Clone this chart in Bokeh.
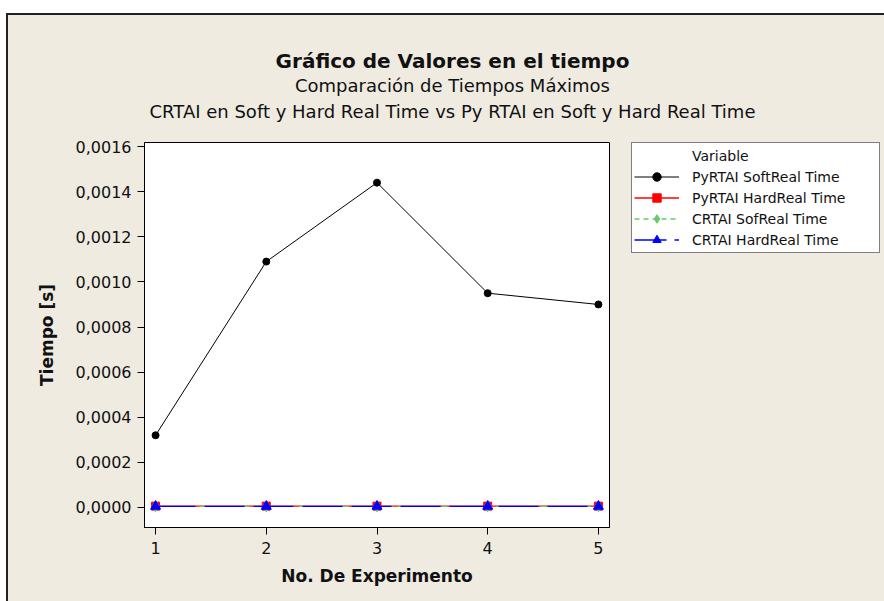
from bokeh.plotting import figure
from bokeh.layouts import column, row
from bokeh.models import (Range1d, FixedTicker, CustomJSTickFormatter, Legend, LegendItem)
from bokeh.core.properties import value
from bokeh.embed import file_html
from bokeh.resources import INLINE

# ---- data ----
experiments = [1, 2, 3, 4, 5]
pyrtai_soft = [0.00032, 0.00109, 0.00144, 0.00095, 0.00090]
pyrtai_hard = [0.000006, 0.000006, 0.000006, 0.000006, 0.000006]
crtai_soft = [0.000005, 0.000005, 0.000005, 0.000005, 0.000005]
crtai_hard = [0.000005, 0.000005, 0.000005, 0.000005, 0.000005]
y_ticks = [0.0, 0.0002, 0.0004, 0.0006, 0.0008, 0.0010, 0.0012, 0.0014, 0.0016]
x_ticks = [1, 2, 3, 4, 5]
series_names = ["PyRTAI SoftReal Time", "PyRTAI HardReal Time", "CRTAI SofReal Time", "CRTAI HardReal Time"]
legend_title = "Variable"
title_text = "Gráfico de Valores en el tiempo"
subtitle1 = "Comparación de Tiempos Máximos"
subtitle2 = "CRTAI en Soft y Hard Real Time vs Py RTAI en Soft y Hard Real Time"

FONT = "DejaVu Sans"
BG = "#EFEBE1"

# ---- title strip ----
t = figure(width=876, height=120, output_backend="svg", toolbar_location=None,
           x_range=Range1d(0, 876), y_range=Range1d(120, 0),
           x_axis_location=None, y_axis_location=None,
           min_border=0, background_fill_color=BG, border_fill_color=BG)
t.grid.visible = False
t.outline_line_color = None
for txt, yy, sz, st in [(title_text, 45, "20px", "bold"), (subtitle1, 70, "18px", "normal"), (subtitle2, 96, "18px", "normal")]:
    t.text(x=[444], y=[yy], text=[txt], text_align="center", text_baseline="middle",
           text_font=value(FONT), text_font_size=sz, text_font_style=st, text_color="#111")

# ---- main chart ----
p = figure(width=623, height=466, output_backend="svg", toolbar_location=None,
           x_range=Range1d(0.9, 5.1), y_range=Range1d(-0.0000887, 0.001618),
           min_border_left=136, min_border_right=22, min_border_top=7, min_border_bottom=74,
           background_fill_color="white", border_fill_color=BG)
p.grid.visible = False
p.outline_line_color = "black"
p.outline_line_width = 1

for ax in (p.xaxis[0], p.yaxis[0]):
    ax.axis_line_color = "black"
    ax.major_tick_line_color = "black"
    ax.minor_tick_line_color = None
    ax.major_tick_in = 0
    ax.major_tick_out = 7
    ax.major_label_text_font = FONT
    ax.major_label_text_font_size = "16px"
    ax.major_label_text_color = "#111"
    ax.axis_label_text_font = FONT
    ax.axis_label_text_font_style = "bold"
    ax.axis_label_text_font_size = "17px"
    ax.axis_label_text_color = "#111"

p.xaxis.ticker = FixedTicker(ticks=x_ticks)
p.yaxis.ticker = FixedTicker(ticks=y_ticks)
p.yaxis.formatter = CustomJSTickFormatter(code="return tick.toFixed(4).replace('.', ',');")
p.xaxis.axis_label = "No. De Experimento"
p.yaxis.axis_label = "Tiempo [s]"
p.xaxis.major_label_standoff = 7
p.yaxis.major_label_standoff = 6
p.xaxis.axis_label_standoff = 9
p.yaxis.axis_label_standoff = 16

styles = [
    (pyrtai_soft, "black", "circle", 7, 1.0, None),
    (pyrtai_hard, "red", "square", 8, 1.3, None),
    (crtai_soft, "#66CC66", "diamond", 11, 1.3, "6 5"),
    (crtai_hard, "blue", "triangle", 10, 1.3, "40 9"),
]
for ys, col, mk, sz, lw, dash in styles:
    kw = {} if dash is None else {"line_dash": dash}
    p.line(experiments, ys, line_color=col, line_width=lw, **kw)
    p.scatter(experiments, ys, marker=mk, size=sz, color=col)

# ---- legend canvas (same series, drawn outside its view so only the legend shows) ----
lf = figure(width=253, height=466, output_backend="svg", toolbar_location=None,
            x_range=Range1d(100, 101), y_range=Range1d(100, 101),
            x_axis_location=None, y_axis_location=None,
            min_border=0, background_fill_color=BG, border_fill_color=BG)
lf.grid.visible = False
lf.outline_line_color = None
dummy = lf.line(x=[0], y=[0], line_alpha=0)
items = [LegendItem(label=legend_title, renderers=[dummy])]
legend_sizes = [9, 9, 11, 11]
pad = "\u00a0" * 7
for (ys, col, mk, sz, lw, dash), name, lsz in zip(styles, series_names, legend_sizes):
    kw = {} if dash is None else {"line_dash": "5 4" if mk == "diamond" else "32 8"}
    lr = lf.line(experiments, ys, line_color=col, line_width=lw, **kw)
    sr = lf.scatter(experiments, ys, marker=mk, size=lsz, color=col)
    label = name + pad if name == "PyRTAI HardReal Time" else name
    items.append(LegendItem(label=label, renderers=[lr, sr]))

legend = Legend(items=items, location="top_left")
legend.label_text_font = FONT
legend.label_text_font_size = "14px"
legend.label_text_color = "#111"
legend.glyph_width = 45
legend.glyph_height = 21
legend.label_height = 21
legend.label_standoff = 13
legend.padding = 2
legend.spacing = 0
legend.margin = 0
legend.border_line_color = "black"
legend.border_line_width = 1
legend.background_fill_color = "white"
legend.background_fill_alpha = 1
lf.add_layout(legend, "center")

layout = column(t, row(p, lf, spacing=0), spacing=0, margin=(13, 0, 0, 6),
                styles={"border-top": "2px solid #222", "border-left": "2px solid #222",
                        "background-color": BG})

open("out.html", "w").write(file_html(layout, INLINE))
